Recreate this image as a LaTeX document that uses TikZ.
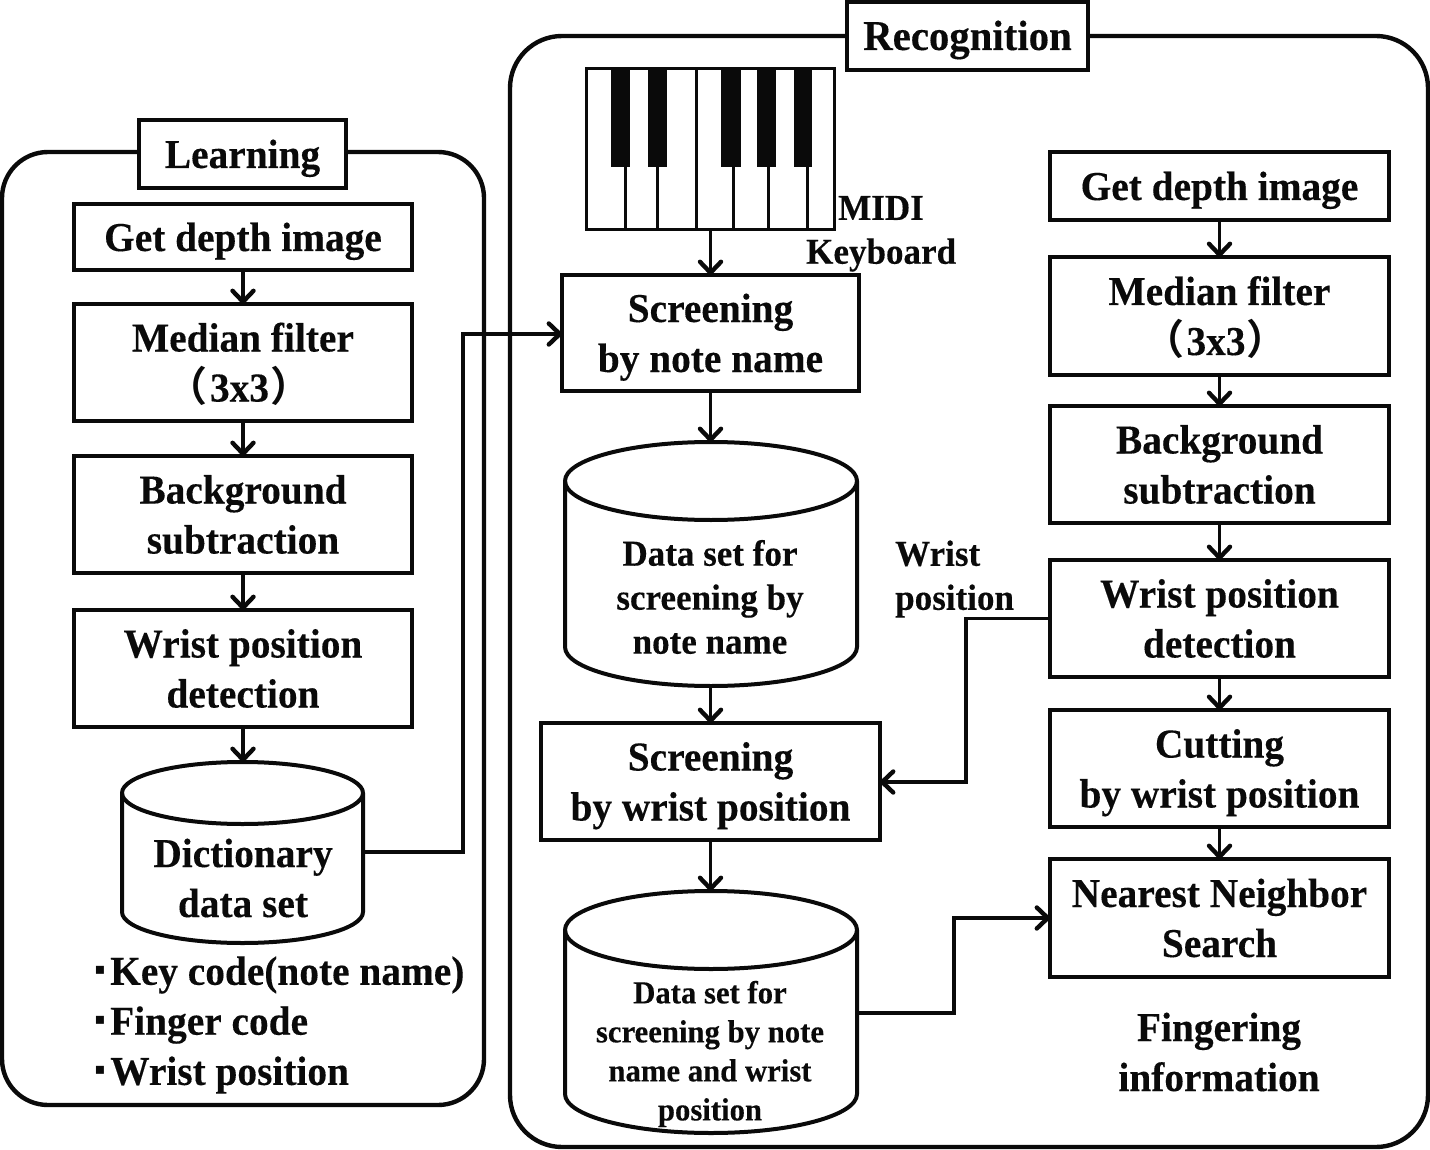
\documentclass[tikz,border=0pt]{standalone}
\usepackage{fontspec}
\setmainfont[FakeStretch=0.96,BoldFeatures={FakeBold=0.25}]{Liberation Serif}
\newfontfamily\cjkf[BoldFont={Noto Sans CJK SC Bold}]{Noto Sans CJK SC}
\newfontfamily\symf{DejaVu Sans}
\usetikzlibrary{arrows.meta}
\definecolor{ink}{HTML}{0A0A0A}
\tikzset{
  x=1pt,y=-1pt,
  line/.style={draw=ink,line width=3pt},
  stepbox/.style={draw=ink,line width=3.6pt,fill=white,anchor=north west,inner sep=0pt,outer sep=0pt,font=\fontsize{41}{50}\selectfont\bfseries,align=center,text=ink},
  lbl/.style={font=\fontsize{41}{50}\selectfont\bfseries,align=center,text=ink,inner sep=0pt},
  small/.style={font=\fontsize{36.5}{44}\selectfont\bfseries,align=center,text=ink,inner sep=0pt},
  tiny/.style={font=\fontsize{32}{39}\selectfont\bfseries,align=center,text=ink,inner sep=0pt},
  conn/.style={draw=ink,line width=3.2pt,-{Straight Barb[length=11pt,width=21pt,line width=4.4pt,round]}},
}
\newcommand{\cyl}[5]{% x1,x2,ytop,ybot,ry
  \path[fill=white,draw=ink,line width=4pt] (#1,#3+#5) -- (#1,#4-#5) arc[start angle=180,end angle=360,x radius={(#2-#1)/2},y radius=-#5] -- (#2,#3+#5) arc[start angle=0,end angle=180,x radius={(#2-#1)/2},y radius=#5*-1] -- cycle;
  \draw[draw=ink,line width=4pt] (#1,#3+#5) arc[start angle=180,end angle=360,x radius={(#2-#1)/2},y radius=#5*-1];
}
\newcommand{\bx}[6]{\node[stepbox,minimum width=#4-#2,minimum height=#5-#3] (#1) at (#2,#3) {\rule{0pt}{43pt}#6\strut};}
\newcommand{\pl}{\hspace{-8pt}\smash{\cjkf （}\hspace{2pt}}
\newcommand{\pr}{\hspace{1pt}\smash{\cjkf ）}}
\newcommand{\bul}{\raisebox{10pt}{\symf\fontsize{16}{16}\selectfont ▪}\hspace{4.7pt}}
\begin{document}
\begin{tikzpicture}
\useasboundingbox (0,0) rectangle (1430,1150);
\fill[white] (0,0) rectangle (1430,1150);
% frames
\draw[line,line width=4.4pt,rounded corners=46pt] (2,152) rectangle (484,1105);
\draw[line,line width=4.4pt,rounded corners=52pt] (510,36) rectangle (1428,1147);
\bx{learn}{139}{120}{346}{188}{Learning}
\bx{recog}{847}{2}{1088}{70}{\fontsize{42.5}{50}\selectfont Recognition}
% left
\bx{a1}{74}{204}{412}{270}{Get depth image}
\bx{a2}{74}{304}{412}{421}{Median filter\\\pl 3x3\pr}
\bx{a3}{74}{456}{412}{573}{Background\\subtraction}
\bx{a4}{74}{610}{412}{727}{Wrist position\\detection}
\cyl{122}{363}{762}{943}{31}
\coordinate (dictr) at (363,852);
\coordinate (dictt) at (243,762);
\node[lbl] (dictl) at (243,878) {Dictionary\\data set};
\node[lbl,anchor=west] (k1) at (94.5,975) {\bul Key code(note name)};
\node[lbl,anchor=west] (k2) at (94.5,1025) {\bul Finger code};
\node[lbl,anchor=west] (k3) at (94.5,1075) {\bul Wrist position};
% keyboard
\draw[line,fill=white] (586.5,68.5) rectangle (834.5,229.5);
\foreach \x in {625,657,696,733,768,807}{\draw[draw=ink,line width=3pt] (\x,68)--(\x,230);}
\foreach \x/\w in {611/19,648/19,721/20,757/19,794/18}{\fill[ink] (\x,68) rectangle (\x+\w,167);}
\coordinate (kbd) at (710.5,229.5);
\node[small,anchor=west] (midi) at (838,208) {MIDI};
\node[small,anchor=west] (kb) at (806,255) {Keyboard};
% centre
\bx{b1}{562}{275}{859}{391}{Screening\\by note name}
\cyl{565}{857}{442}{686}{39}
\coordinate (d1t) at (710.5,442); \coordinate (d1b) at (710.5,686);
\node[small] (d1l) at (710,597) {Data set for\\screening by\\note name};
\bx{b2}{541}{723}{880}{840}{Screening\\by wrist position}
\cyl{565}{857}{891}{1133}{39}
\coordinate (d2t) at (710.5,891); \coordinate (d2r) at (857,1013);
\node[tiny] (d2l) at (710,1054) {Data set for\\screening by note\\name and wrist\\position};
\node[small,anchor=west,align=left] (wp) at (895,579) {Wrist\\position};
% right
\bx{c1}{1050}{152}{1389}{220}{Get depth image}
\bx{c2}{1050}{257}{1389}{375}{Median filter\\\pl 3x3\pr}
\bx{c3}{1050}{406}{1389}{523}{Background\\subtraction}
\bx{c4}{1050}{560}{1389}{677}{Wrist position\\detection}
\bx{c5}{1050}{710}{1389}{827}{Cutting\\by wrist position}
\bx{c6}{1050}{859}{1389}{977}{Nearest Neighbor\\Search}
\node[lbl] (fi) at (1219,1052) {Fingering\\information};
% connectors
\draw[conn] (a1)--(a2);
\draw[conn] (a2)--(a3);
\draw[conn] (a3)--(a4);
\draw[conn] (a4.south)--(a4.south|-dictt);
\draw[conn] (dictr)-|(463,334)--(b1.west|-0,334);
\draw[conn] (kbd)--(kbd|-b1.north);
\draw[conn] (b1.south)--(b1.south|-d1t);
\draw[conn] (d1b)--(d1b|-b2.north);
\draw[conn] (b2.south)--(b2.south|-d2t);
\draw[conn] (c1)--(c2);
\draw[conn] (c2)--(c3);
\draw[conn] (c3)--(c4);
\draw[conn] (c4)--(c5);
\draw[conn] (c5)--(c6);
\draw[conn] (c4.west)-|(966,782)--(b2.east|-0,782);
\draw[conn] (d2r)-|(954,918)--(c6.west|-0,918);
\end{tikzpicture}
\end{document}
